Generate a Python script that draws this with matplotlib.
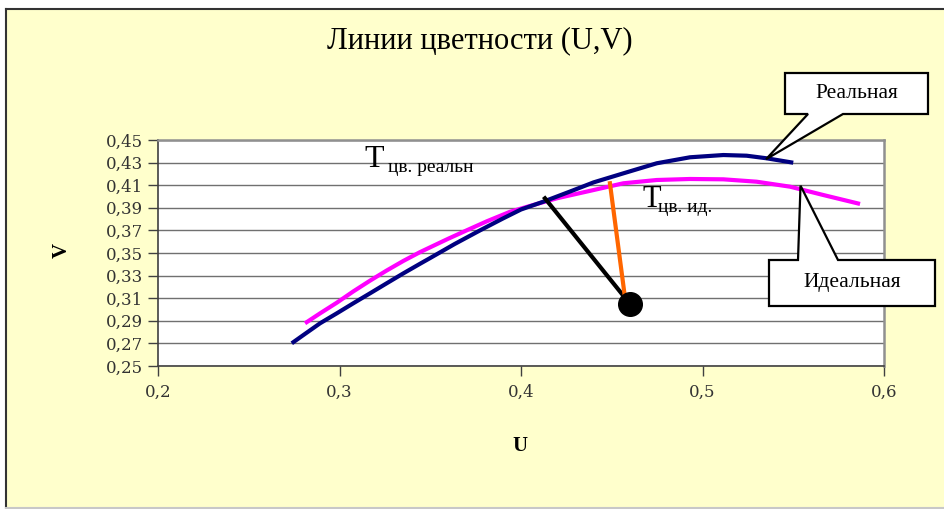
import matplotlib
matplotlib.use("Agg")
import matplotlib.pyplot as plt
from matplotlib.patches import Rectangle, Polygon
from matplotlib.lines import Line2D

# данные
u_real = [0.2737, 0.2801, 0.2893, 0.2985, 0.3076, 0.3168, 0.3260, 0.3352, 0.3444,
          0.3499, 0.3635, 0.3774, 0.3900, 0.4000, 0.4123, 0.4280, 0.4400, 0.4564,
          0.4748, 0.4931, 0.5115, 0.5243, 0.5354, 0.5500]
v_real = [0.2701, 0.2774, 0.2878, 0.2966, 0.3055, 0.3143, 0.3232, 0.3320, 0.3405,
          0.3455, 0.3580, 0.3700, 0.3805, 0.3885, 0.3954, 0.4050, 0.4125, 0.4205,
          0.4294, 0.4347, 0.4367, 0.4361, 0.4338, 0.4299]

u_ideal = [0.2810, 0.2893, 0.2985, 0.3076, 0.3168, 0.3260, 0.3352, 0.3444, 0.3499,
           0.3600, 0.3700, 0.3811, 0.3940, 0.4068, 0.4200, 0.4380, 0.4564, 0.4748,
           0.4931, 0.5115, 0.5298, 0.5482, 0.5666, 0.5868]
v_ideal = [0.2878, 0.2966, 0.3060, 0.3160, 0.3255, 0.3345, 0.3430, 0.3508, 0.3550,
           0.3627, 0.3700, 0.3780, 0.3865, 0.3925, 0.3985, 0.4050, 0.4117, 0.4146,
           0.4155, 0.4152, 0.4131, 0.4087, 0.4013, 0.3934]

point_u, point_v = 0.460, 0.305
black_u = [0.4132, 0.460]
black_v = [0.3984, 0.305]
orange_u = [0.449, 0.457]
orange_v = [0.4117, 0.314]

x_ticks = [0.2, 0.3, 0.4, 0.5, 0.6]
y_ticks = [0.25, 0.27, 0.29, 0.31, 0.33, 0.35, 0.37, 0.39, 0.41, 0.43, 0.45]

W, H = 944, 509
BG = "#FFFFCC"
SERIF = ["Liberation Serif", "DejaVu Serif"]

fig = plt.figure(figsize=(W / 100, H / 100), dpi=100)
fig.patch.set_facecolor("white")


def px(x, y):
    # пиксели от левого верхнего угла -> доли фигуры
    return (x / W, 1 - y / H)


# желтая подложка диаграммы
fig.patches.append(Rectangle(px(6, 508), 1.0, (508 - 9) / H, transform=fig.transFigure,
                             facecolor=BG, edgecolor="none", zorder=-10))
fig.add_artist(Line2D([6 / W, 1], [1 - 9 / H] * 2, transform=fig.transFigure,
                      color="#333333", lw=1.5, zorder=-9))
fig.add_artist(Line2D([6 / W] * 2, [1 - 9 / H, 1 - 508 / H], transform=fig.transFigure,
                      color="#333333", lw=1.5, zorder=-9))
fig.add_artist(Line2D([6 / W, 1], [1 - 508 / H] * 2, transform=fig.transFigure,
                      color="#c8c8c8", lw=1.5, zorder=-9))

ax = fig.add_axes([158 / W, 1 - 366 / H, (884 - 158) / W, (366 - 140) / H], zorder=1)
ax.set_facecolor("white")
ax.set_xlim(0.2, 0.6)
ax.set_ylim(0.25, 0.45)
ax.set_xticks(x_ticks)
ax.set_yticks(y_ticks)
ax.set_xticklabels([f"{t:.1f}".replace(".", ",") for t in x_ticks])
ax.set_yticklabels([f"{t:.2f}".replace(".", ",") for t in y_ticks])
for lab in ax.get_xticklabels() + ax.get_yticklabels():
    lab.set_fontfamily(["DejaVu Serif"])
    lab.set_fontsize(12)
    lab.set_color("#333333")
ax.tick_params(axis="both", direction="out", length=7, width=1, color="#404040")
ax.tick_params(axis="x", pad=6)
ax.tick_params(axis="y", pad=4)
ax.grid(axis="y", color="#707070", lw=1)
ax.set_axisbelow(True)
for side in ["top", "right"]:
    ax.spines[side].set_color("#909090")
    ax.spines[side].set_linewidth(1.8)
for side in ["left", "bottom"]:
    ax.spines[side].set_color("#404040")
    ax.spines[side].set_linewidth(1.2)

ax.plot(u_ideal, v_ideal, color="#FF00FF", lw=3, solid_capstyle="butt",
        solid_joinstyle="round", zorder=3)
ax.plot(u_real, v_real, color="#000080", lw=3, solid_capstyle="butt",
        solid_joinstyle="round", zorder=4)
ax.plot(black_u, black_v, color="black", lw=3, zorder=5)
ax.plot(orange_u, orange_v, color="#FF6600", lw=3, zorder=5)
ax.plot([point_u], [point_v], "o", color="black", markersize=17, zorder=6)

# подписи Tцв
ax.text(0.3135, 0.4264, "T", fontsize=23, family=SERIF, va="baseline", zorder=7)
ax.text(0.3267, 0.4217, "цв. реальн", fontsize=14, family=SERIF, va="baseline", zorder=7)
ax.text(0.4670, 0.3907, "T", fontsize=22, family=SERIF, va="baseline", zorder=7)
ax.text(0.4755, 0.3863, "цв. ид.", fontsize=14, family=SERIF, va="baseline", zorder=7)

# заголовок и оси
fig.text(480 / W, 1 - 41 / H, "Линии цветности (U,V)", fontsize=22, family=SERIF,
         ha="center", va="center")
fig.text(520 / W, 1 - 446 / H, "U", fontsize=15, family=SERIF, weight="bold",
         ha="center", va="center")
fig.text(62 / W, 1 - 250 / H, "V", fontsize=15, family=SERIF, weight="bold",
         ha="center", va="center", rotation=90)


# выноски
def callout(box, base, tip_data, label):
    x0, y0, x1, y1 = box
    bx0, bx1, by = base
    tx, ty = ax.transData.transform(tip_data)
    tx, ty = fig.transFigure.inverted().transform((tx, ty))
    if by == y1:
        pts = [px(x0, y0), px(x1, y0), px(x1, y1), px(bx1, by), (tx, ty),
               px(bx0, by), px(x0, y1)]
    else:
        pts = [px(x0, y0), px(bx0, by), (tx, ty), px(bx1, by), px(x1, y0),
               px(x1, y1), px(x0, y1)]
    fig.patches.append(Polygon(pts, closed=True, transform=fig.transFigure,
                               facecolor="white", edgecolor="black", lw=1.6,
                               joinstyle="miter", zorder=10))
    fig.text(((x0 + x1) / 2) / W, 1 - ((y0 + y1) / 2) / H, label, fontsize=15.5,
             family=SERIF, ha="center", va="center", zorder=11)


callout((785, 73, 928, 114), (808, 843, 114), (0.535, 0.433), "Реальная")
callout((769, 260, 935, 306), (798, 838, 260), (0.554, 0.4096), "Идеальная")

fig.savefig("out.png", dpi=100, facecolor=fig.get_facecolor())
